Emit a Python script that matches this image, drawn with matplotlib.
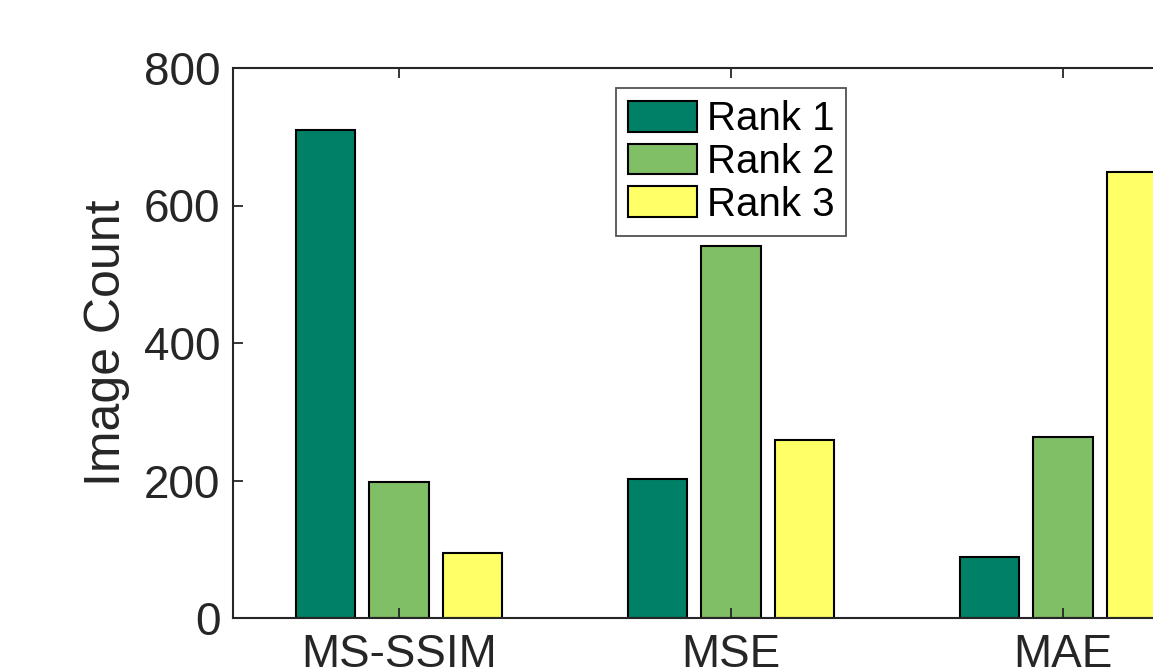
import numpy as np
import matplotlib.pyplot as plt

plt.rcParams['font.family'] = ['Liberation Sans', 'DejaVu Sans']

metrics = ['MS-SSIM', 'MSE', 'MAE']
rank_labels = ['Rank 1', 'Rank 2', 'Rank 3']
rank1 = [710, 202, 89]
rank2 = [198, 541, 263]
rank3 = [95, 259, 649]
colors = ['#008066', '#80BF66', '#FFFF66']

txt = '#262626'

fig = plt.figure(figsize=(11.53, 6.70), dpi=100)
# axes runs past the right edge of the figure, like the cropped original
ax = fig.add_axes([233 / 1153, 52 / 670, 996 / 1153, 550 / 670])

x = np.arange(1, len(metrics) + 1)
w = 0.178
off = 0.222
for i, vals in enumerate([rank1, rank2, rank3]):
    ax.bar(x + (i - 1) * off, vals, width=w, color=colors[i],
           edgecolor='black', linewidth=1.5, label=rank_labels[i])

ax.set_xlim(0.5, 3.5)
ax.set_ylim(0, 800)
ax.set_xticks(x)
ax.set_xticklabels(metrics)
ax.set_yticks([0, 200, 400, 600, 800])
ax.set_ylabel('Image Count', fontsize=36, color=txt, labelpad=10)

ax.tick_params(direction='in', top=True, right=True, length=7, width=1.3,
               labelsize=33, colors=txt)
ax.tick_params(axis='x', pad=11)
ax.tick_params(axis='y', pad=9)
for s in ax.spines.values():
    s.set_color(txt)
    s.set_linewidth(1.5)

leg = ax.legend(loc='upper left', bbox_to_anchor=(0.3845, 0.9636),
                borderaxespad=0, fontsize=29, frameon=True, fancybox=False,
                handlelength=1.7, handleheight=0.8, handletextpad=0.25,
                labelspacing=0.12, borderpad=0.3)
leg.get_frame().set_edgecolor(txt)
leg.get_frame().set_linewidth(1.3)
for p in leg.get_patches():
    p.set_linewidth(1.5)

fig.savefig('out.png', dpi=100)
